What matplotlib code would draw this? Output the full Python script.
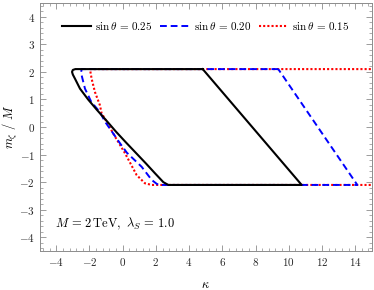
import matplotlib
matplotlib.use('Agg')
import matplotlib.pyplot as plt
from matplotlib.ticker import MultipleLocator, FuncFormatter

plt.rcParams['mathtext.fontset'] = 'cm'
plt.rcParams['font.family'] = 'serif'
plt.rcParams['font.serif'] = ['cmr10', 'DejaVu Serif']

# left (curved) boundary of each region, top to bottom: kappa, m/M
k_025 = [-2.85, -3.0, -3.05, -3.0, -2.87, -2.57, -2.07, -1.55, -0.96, -0.4, 0.2, 0.8, 1.4, 1.95, 2.45, 2.75]
m_025 = [2.1, 2.07, 2.0, 1.9, 1.75, 1.39, 0.99, 0.62, 0.22, -0.17, -0.56, -0.94, -1.32, -1.68, -2.0, -2.1]
k_020 = [-2.47, -2.5, -2.47, -2.27, -1.89, -1.37, -1.07, -0.16, 0.25, 1.14, 1.75, 2.05, 2.2]
m_020 = [2.1, 2.0, 1.87, 1.39, 0.91, 0.54, 0.2, -0.59, -0.93, -1.44, -1.92, -2.06, -2.1]
k_015 = [-1.97, -1.87, -1.67, -1.37, -1.27, -1.07, -0.46, 0.14, 0.84, 1.34, 1.75]
m_015 = [2.1, 1.75, 1.27, 0.79, 0.5, 0.3, -0.35, -0.95, -1.74, -2.04, -2.1]

# right corners (top kappa, bottom kappa)
right_025 = [4.82, 10.78]
right_020 = [9.37, 14.13]
right_015 = [16.5, 20.0]

labels = [r'$\sin\theta\,=\,0.25$', r'$\sin\theta\,=\,0.20$', r'$\sin\theta\,=\,0.15$']

fig = plt.figure(figsize=(3.74, 2.90), dpi=100)
ax = fig.add_axes([0.106, 0.134, 0.888, 0.856])


def outline(k, m, right):
    xs = [right[0]] + k + [right[1], right[0]]
    ys = [m[0]] + m + [m[-1], m[0]]
    return xs, ys


x, y = outline(k_025, m_025, right_025)
ax.plot(x, y, color='black', lw=1.5, zorder=4, label=labels[0])
x, y = outline(k_020, m_020, right_020)
ax.plot(x, y, color='blue', lw=1.4, ls=(0, (3.5, 2)), zorder=3, label=labels[1])
x, y = outline(k_015, m_015, right_015)
ax.plot(x, y, color='red', lw=1.5, ls=(0, (1, 1)), zorder=2, label=labels[2])

ax.set_xlim(-5, 15)
ax.set_ylim(-4.5, 4.5)

ax.xaxis.set_major_locator(MultipleLocator(2))
ax.xaxis.set_minor_locator(MultipleLocator(0.4))
ax.yaxis.set_major_locator(MultipleLocator(1))
ax.yaxis.set_minor_locator(MultipleLocator(0.2))
fmt = FuncFormatter(lambda v, p: r'$%g$' % v)
ax.xaxis.set_major_formatter(fmt)
ax.yaxis.set_major_formatter(fmt)
ax.tick_params(which='both', direction='in', top=True, right=True, color='0.55',
               labelsize=8, labelcolor='0.15')
ax.tick_params(which='major', length=4.5, width=0.6)
ax.tick_params(which='minor', length=2.2, width=0.5)
for s in ax.spines.values():
    s.set_color('0.55')
    s.set_linewidth(0.7)

ax.set_xlabel(r'$\kappa$', fontsize=9, labelpad=8)
ax.set_ylabel(r'$m_\zeta\ /\ M$', fontsize=9)
ax.yaxis.set_label_coords(-0.058, 0.5)

ax.text(0.045, 0.11, r'$M\,=\,2\,\mathrm{TeV},\ \lambda_S\,=\,1.0$', fontsize=9,
        va='center', ha='left', transform=ax.transAxes)

ax.legend(loc='upper center', ncol=3, frameon=False, fontsize=8,
          bbox_to_anchor=(0.5, 0.97), handlelength=2.6, columnspacing=0.7,
          handletextpad=0.4)

fig.savefig('out.png', dpi=100)
